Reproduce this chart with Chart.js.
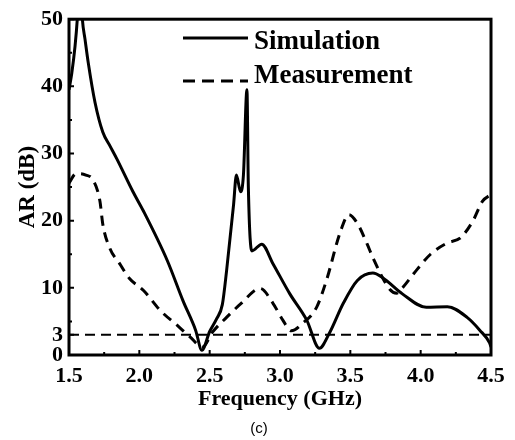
<!DOCTYPE html>
<html>
<head>
<meta charset="utf-8">
<script src="https://cdn.jsdelivr.net/npm/chart.js@4.4.1/dist/chart.umd.min.js"></script>
<style>
html,body{margin:0;padding:0;background:#fff;}
#wrap{width:515px;height:440px;}
</style>
</head>
<body>
<div id="wrap"><canvas id="c" width="515" height="440"></canvas></div>
<script>
// ---- data ----
const simFreq = [1.5,1.52,1.543,1.559,1.577,1.595,1.614,1.637,1.685,1.74,1.792,1.84,1.955,2.03,2.2,2.31,2.4,2.445,2.5,2.55,2.59,2.62,2.67,2.69,2.72,2.74,2.765,2.775,2.8,2.87,2.95,3.07,3.19,3.28,3.35,3.45,3.55,3.66,3.73,3.87,4.04,4.19,4.33,4.42,4.49,4.5];
const simAR   = [39.5,42,46,50,57,50,47,43.5,37.6,33.2,31.1,29.2,24.3,21.4,14,8.1,3.7,0.7,3.5,5.4,7.5,12.5,22.4,26.8,24.3,26.8,39.5,25,15.5,16.5,13.6,9.1,5.2,1.0,3.2,7.7,11.1,12.2,11.5,9.1,7.1,7.2,5.6,3.7,1.8,1.2];
const measFreq = [1.5,1.55,1.578,1.62,1.67,1.72,1.74,1.79,1.86,1.93,2.03,2.15,2.27,2.36,2.45,2.52,2.62,2.72,2.86,2.95,3.02,3.08,3.16,3.26,3.33,3.43,3.49,3.55,3.62,3.66,3.78,3.83,3.87,3.95,4.07,4.19,4.28,4.37,4.44,4.5];
const measAR   = [25.6,27,27,26.8,26.1,22.9,19.5,15.9,13.6,11.4,9.6,6.6,4.4,2.7,1.2,3.4,5.6,7.6,9.9,7.7,5.2,3.6,4.7,7.1,11.1,18.4,20.9,19.6,16.5,14.5,9.8,9.2,10,12.1,15,16.7,17.4,19.9,22.9,23.9];
const refFreq = [1.5,4.5];
const refAR   = [3,3];
const seriesNames = ["Simulation","Measurement"];
const xTicks = [1.5,2.0,2.5,3.0,3.5,4.0,4.5];
const xMinor = [1.75,2.25,2.75,3.25,3.75,4.25];
const yTicks = [0,3,10,20,30,40,50];
const yMinor = [5,15,25,35,45];
const xTitle = "Frequency (GHz)";
const yTitle = "AR (dB)";
const caption = "(c)";

const pts = (xs, ys) => xs.map((x,i)=>({x:x, y:ys[i]}));
const SERIF = '"Liberation Serif","Times New Roman",serif';

const decor = {
  id:'decor',
  afterDatasetsDraw(chart){
    const ctx = chart.ctx, ca = chart.chartArea, xs = chart.scales.x, ys = chart.scales.y;
    ctx.save();
    ctx.strokeStyle = '#000';
    ctx.setLineDash([]);
    ctx.lineWidth = 2;
    ctx.beginPath();
    xTicks.forEach(v=>{const p=xs.getPixelForValue(v); ctx.moveTo(p,ca.bottom); ctx.lineTo(p,ca.bottom-5);});
    xMinor.forEach(v=>{const p=xs.getPixelForValue(v); ctx.moveTo(p,ca.bottom); ctx.lineTo(p,ca.bottom-3);});
    yTicks.forEach(v=>{const p=ys.getPixelForValue(v); ctx.moveTo(ca.left,p); ctx.lineTo(ca.left+5,p);});
    yMinor.forEach(v=>{const p=ys.getPixelForValue(v); ctx.moveTo(ca.left,p); ctx.lineTo(ca.left+3,p);});
    ctx.stroke();
    ctx.lineWidth = 3;
    ctx.strokeRect(ca.left, ca.top, ca.right-ca.left, ca.bottom-ca.top);
    // legend
    ctx.lineWidth = 3;
    ctx.beginPath(); ctx.moveTo(183,38); ctx.lineTo(248,38); ctx.stroke();
    ctx.setLineDash([12,7]);
    ctx.beginPath(); ctx.moveTo(183,81); ctx.lineTo(248,81); ctx.stroke();
    ctx.setLineDash([]);
    ctx.fillStyle = '#000';
    ctx.font = 'bold 27px ' + SERIF;
    ctx.textAlign = 'left'; ctx.textBaseline = 'alphabetic';
    ctx.fillText(seriesNames[0], 254, 49);
    ctx.fillText(seriesNames[1], 254, 83);
    ctx.font = '15px "Liberation Sans", Arial, sans-serif';
    ctx.textAlign = 'center';
    ctx.fillText(caption, 259, 433);
    ctx.restore();
  }
};

new Chart(document.getElementById('c'), {
  type:'line',
  data:{
    datasets:[
      {label:seriesNames[0], data:pts(simFreq,simAR), borderColor:'#000', borderWidth:3, pointRadius:0, cubicInterpolationMode:'monotone', fill:false},
      {label:seriesNames[1], data:pts(measFreq,measAR), borderColor:'#000', borderWidth:3, borderDash:[10,7], pointRadius:0, cubicInterpolationMode:'monotone', fill:false},
      {label:'3 dB', data:pts(refFreq,refAR), borderColor:'#000', borderWidth:2, borderDash:[10,6], pointRadius:0, fill:false}
    ]
  },
  options:{
    responsive:false, animation:false, devicePixelRatio:1,
    layout:{padding:{left:0, top:16, right:24, bottom:25}},
    plugins:{legend:{display:false}, tooltip:{enabled:false}},
    scales:{
      x:{type:'linear', min:1.5, max:4.5,
        afterFit(s){ s.height = 60; },
        afterBuildTicks(s){ s.ticks = xTicks.map(v=>({value:v})); },
        grid:{display:false, drawTicks:false},
        border:{display:false},
        ticks:{color:'#000', padding:8, font:{family:SERIF, size:22, weight:'bold'}, callback:v=>Number(v).toFixed(1), maxRotation:0, autoSkip:false},
        title:{display:true, text:xTitle, color:'#000', font:{family:SERIF, size:22, weight:'bold'}, padding:{top:0,bottom:2}}
      },
      y:{type:'linear', min:0, max:50,
        afterFit(s){ s.width = 69; },
        afterBuildTicks(s){ s.ticks = yTicks.map(v=>({value:v})); },
        grid:{display:false, drawTicks:false},
        border:{display:false},
        ticks:{color:'#000', padding:6, font:{family:SERIF, size:22, weight:'bold'}, autoSkip:false},
        title:{display:true, text:yTitle, color:'#000', font:{family:SERIF, size:23, weight:'bold'}, padding:{top:14,bottom:0}}
      }
    }
  },
  plugins:[decor]
});
</script>
</body>
</html>
